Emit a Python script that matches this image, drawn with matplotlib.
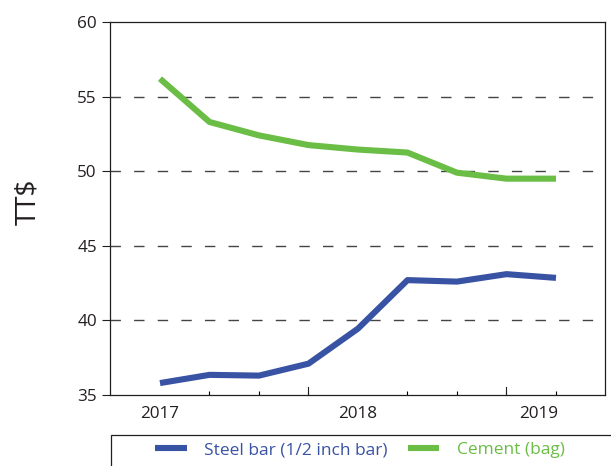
import matplotlib

matplotlib.use("Agg")
import matplotlib.pyplot as plt
from matplotlib.patches import Rectangle

plt.rcParams["font.family"] = ["Open Sans", "DejaVu Sans"]

# quarterly observations, 2017 -> 2019
periods = list(range(9))
steel = [35.8, 36.35, 36.3, 37.1, 39.45, 42.7, 42.6, 43.1, 42.85]
cement = [56.2, 53.3, 52.4, 51.75, 51.45, 51.25, 49.9, 49.5, 49.5]
year_labels = ["2017", "2018", "2019"]
year_pos = [0, 4, 7.65]

BLUE = "#3953a4"
GREEN = "#6abd45"
FG = "#231f20"
FS = 12.3

fig = plt.figure(figsize=(6.11, 4.66), dpi=100)
ax = fig.add_axes([110 / 611, 71 / 466, 495 / 611, 373 / 466])

ax.plot(periods, steel, color=BLUE, lw=4.4, solid_capstyle="butt",
        label="Steel bar (1/2 inch bar)")
ax.plot(periods, cement, color=GREEN, lw=4.4, solid_capstyle="butt",
        label="Cement (bag)")

ax.set_xlim(-1.01, 8.99)
ax.set_ylim(35, 60)
ax.set_yticks([35, 40, 45, 50, 55, 60])
for y in [40, 45, 50, 55]:
    ax.axhline(y, color="#444444", lw=1.0, dashes=(7.5, 9.5), zorder=0)

ax.set_xticks(year_pos)
ax.set_xticklabels(year_labels)
ax.set_xticks(periods, minor=True)
ax.tick_params(axis="x", which="major", length=0, pad=8, labelsize=FS, colors=FG)
ax.tick_params(axis="x", which="minor", direction="in", length=3, width=0.8)
ax.tick_params(axis="y", direction="out", length=6, width=0.8, labelsize=FS, colors=FG)
# longer marks at the year boundaries
for xb in [3, 7]:
    ax.plot([xb, xb], [35, 35.55], color=FG, lw=0.8, clip_on=False)

for s in ax.spines.values():
    s.set_color(FG)
    s.set_linewidth(0.9)

ax.set_ylabel("TT$", fontsize=20, color=FG)
ax.yaxis.set_label_coords(-0.137, 0.517)

fig.patches.append(Rectangle((111 / 611, -0.05), 0.9, (31 / 466) + 0.05,
                             transform=fig.transFigure, fill=False,
                             edgecolor=FG, lw=0.9))
fig.legend(loc="center", bbox_to_anchor=(360 / 611, 16 / 466), ncol=2,
           frameon=False, fontsize=12.5, handlelength=1.8, handletextpad=1.0,
           columnspacing=1.2, labelcolor="linecolor")

fig.savefig("out.png", dpi=100)
